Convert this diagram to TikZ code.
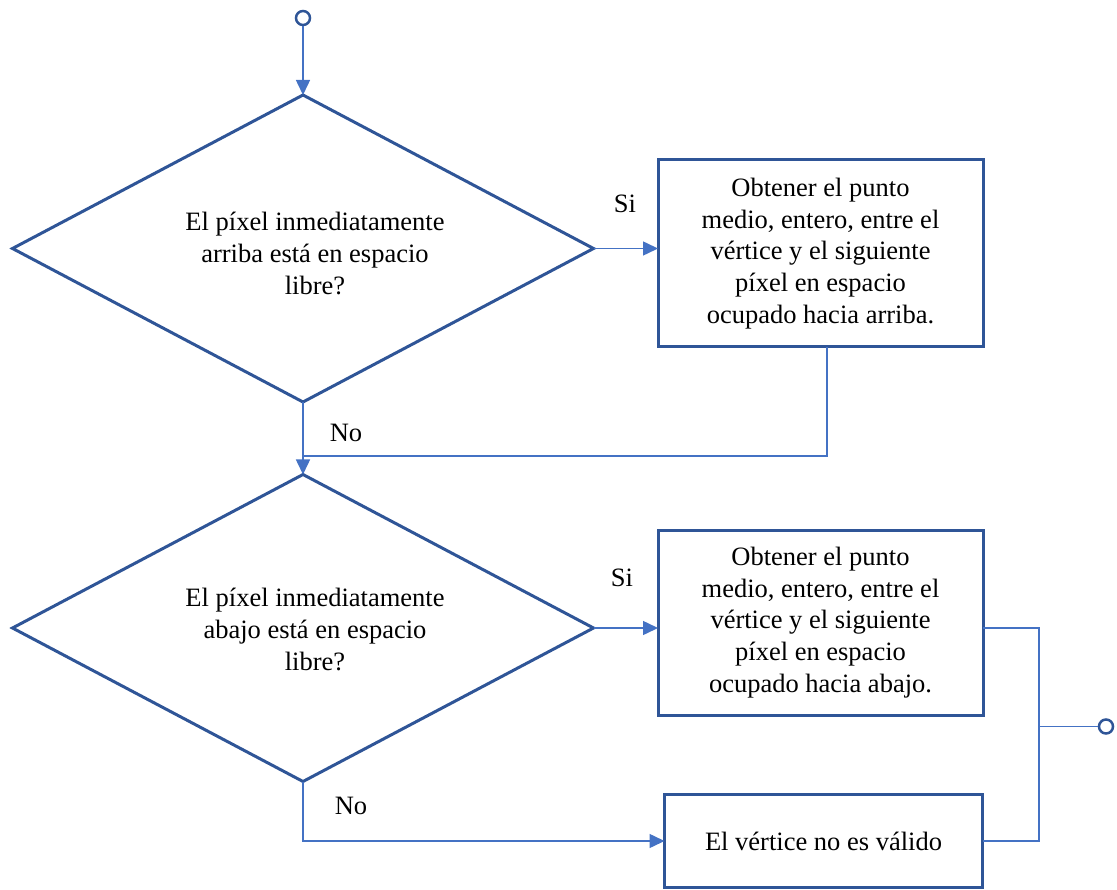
\documentclass[tikz,border=0pt]{standalone}
\usepackage{fontspec}
\setmainfont{Liberation Serif}
\usetikzlibrary{arrows.meta,shapes.geometric}

\definecolor{shapeblue}{HTML}{2F5597}
\definecolor{linkblue}{HTML}{4472C4}

\begin{document}
\begin{tikzpicture}[x=1pt,y=-1pt,
  txt/.style={font=\fontsize{26.5}{31.6}\selectfont},
  decision/.style={draw=shapeblue,line width=3pt,shape=diamond,
    aspect=1.89,minimum width=581pt,minimum height=307pt,inner sep=0pt,
    outer sep=0pt},
  question/.style={txt,inner sep=0pt,align=center},
  process/.style={txt,draw=shapeblue,line width=3pt,shape=rectangle,
    inner sep=0pt,outer sep=0pt,align=center},
  terminal/.style={draw=shapeblue,line width=2.5pt,shape=circle,
    minimum size=14pt,inner sep=0pt},
  link/.style={draw=linkblue,line width=1.5pt},
  arrow/.style={link,-{Triangle[length=15pt,width=14pt]}},
  label/.style={txt,inner sep=0pt}]

  \useasboundingbox (0,0) rectangle (1117,890);

  % start and end terminals
  \node[terminal] (start) at (303,18) {};
  \node[terminal] (stop) at (1106,726.5) {};

  % decisions, with their questions set a little right of centre
  \node[decision] (up) at (303,248.5) {};
  \node[question] (upq) at (315,253.5)
    {El píxel inmediatamente\\arriba está en espacio\\libre?};
  \node[decision] (down) at (303,628) {};
  \node[question] (downq) at (315,629.5)
    {El píxel inmediatamente\\abajo está en espacio\\libre?};

  % processes
  \node[process,minimum width=325pt,minimum height=187pt] (midup) at (820.5,253.5)
    {Obtener el punto\\medio, entero, entre el\\vértice y el siguiente\\píxel en espacio\\ocupado hacia arriba.};
  \node[process,minimum width=325pt,minimum height=185pt] (middown) at (820.5,622.5)
    {Obtener el punto\\medio, entero, entre el\\vértice y el siguiente\\píxel en espacio\\ocupado hacia abajo.};
  \node[process,minimum width=318pt,minimum height=93pt] (invalid) at (823.5,841)
    {El vértice no es válido};

  % branch labels
  \node[label] (si1) at (625,204) {Si};
  \node[label] (no1) at (346,433) {No};
  \node[label] (si2) at (622,578) {Si};
  \node[label] (no2) at (351,806) {No};

  % helper points for the routed connectors
  \coordinate (drop) at (827,347);
  \coordinate (j1) at (303,456);
  \coordinate (j2) at (1039,726.5);

  % connectors
  \draw[arrow] (start.south) -- (up.north);
  \draw[arrow] (up.east) -- (up.east -| midup.west);
  \draw[arrow] (up.south) -- (down.north);
  \draw[link] (drop |- midup.south) -- (drop |- j1) -- (j1);
  \draw[arrow] (down.east) -- (down.east -| middown.west);
  \draw[arrow] (down.south) |- (invalid.west);
  \draw[link] (down.east -| middown.east) -| (j2);
  \draw[link] (invalid.east) -| (j2);
  \draw[link] (j2) -- (stop.west);
\end{tikzpicture}
\end{document}
